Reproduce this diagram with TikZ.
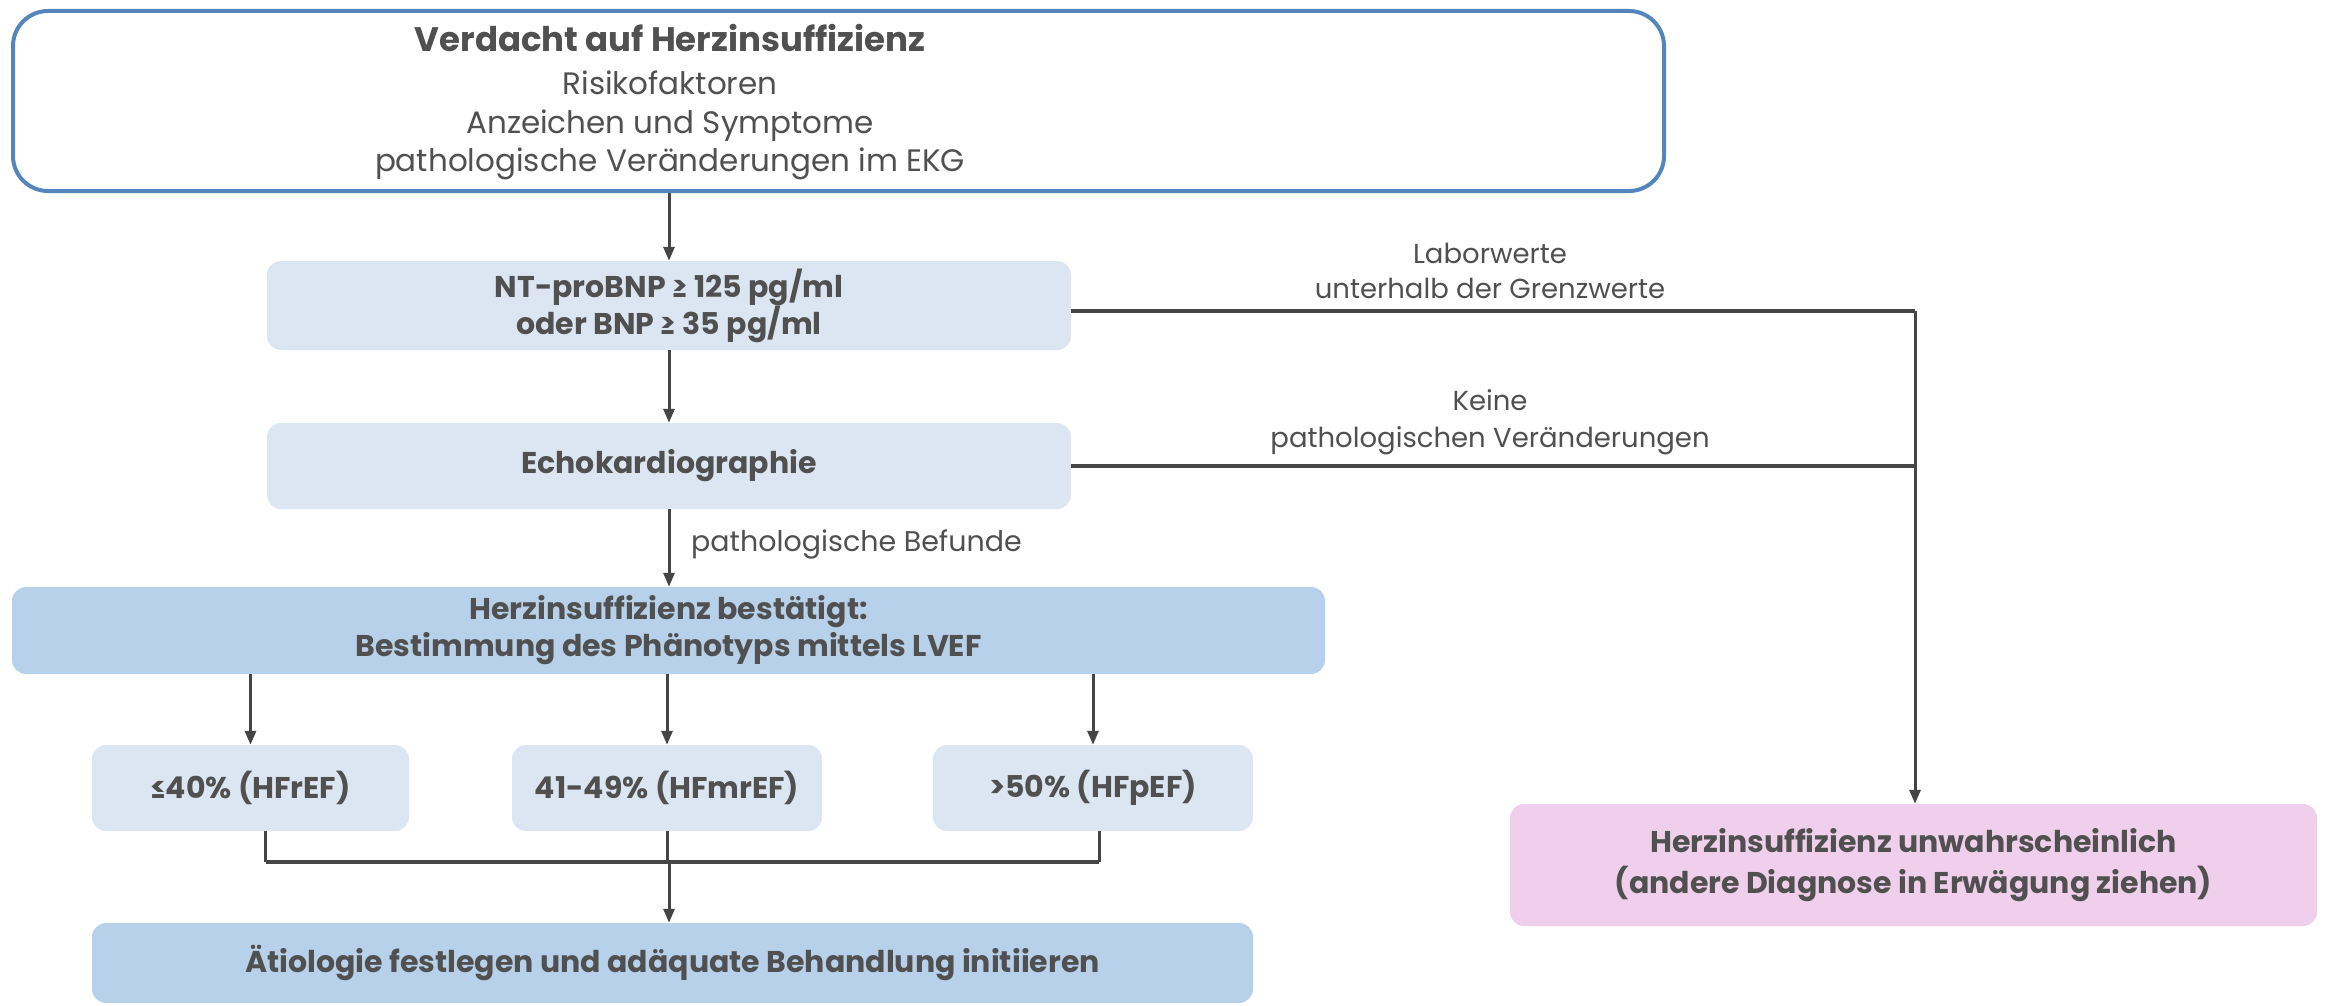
\documentclass[tikz,border=0pt]{standalone}
\usepackage{fontspec}
\setmainfont{Poppins}
\usetikzlibrary{arrows.meta}
\definecolor{txt}{HTML}{505050}
\definecolor{ln}{HTML}{454545}
\definecolor{border}{HTML}{5585BD}
\definecolor{lightblue}{HTML}{DCE6F2}
\definecolor{midblue}{HTML}{B8D1EA}
\definecolor{pinkfill}{HTML}{F0CFEC}
\tikzset{
  box/.style={rectangle, rounded corners=14pt, inner sep=0pt, align=center, text=txt, font=\fontsize{30}{37}\selectfont\bfseries},
  lbox/.style={box, fill=lightblue},
  mbox/.style={box, fill=midblue},
  pbox/.style={box, fill=pinkfill, font=\fontsize{30}{41}\selectfont\bfseries},
  conn/.style={draw=ln, line width=3pt},
  hconn/.style={draw=ln, line width=4pt},
  arr/.style={conn, -{Triangle[length=14pt,width=11pt]}},
  lab/.style={text=txt, align=center, inner sep=0pt, font=\fontsize{27.5}{35}\selectfont}
}
\begin{document}
\begin{tikzpicture}[x=1pt,y=-1pt]
\useasboundingbox (0,0) rectangle (2326,1006);
\fill[white] (0,0) rectangle (2326,1006);

\node[rectangle, draw=border, line width=4pt, rounded corners=35pt, fill=white,
      minimum width=1651pt, minimum height=180pt] (top) at (838.5,101) {};
\node[lab, font=\fontsize{31}{38.5}\selectfont] (toptext) at (670,102)
  {{\fontsize{34}{40}\selectfont\bfseries Verdacht auf Herzinsuffizienz}\\[5pt]
   Risikofaktoren\\ Anzeichen und Symptome\\ pathologische Veränderungen im EKG};

\node[lbox, minimum width=804pt, minimum height=89pt] (nt) at (669,305.5)
  {NT-proBNP ≥ 125 pg/ml\\ oder BNP ≥ 35 pg/ml};
\node[lbox, minimum width=804pt, minimum height=86pt] (echo) at (669,466)
  {Echokardiographie};
\node[mbox, minimum width=1313pt, minimum height=87pt] (hi) at (668.5,630.5)
  {Herzinsuffizienz bestätigt:\\ Bestimmung des Phänotyps mittels LVEF};
\node[lbox, minimum width=317pt, minimum height=86pt] (b1) at (250.5,788) {≤40\% (HFrEF)};
\node[lbox, minimum width=310pt, minimum height=86pt] (b2) at (667,788) {41-49\% (HFmrEF)};
\node[lbox, minimum width=320pt, minimum height=86pt] (b3) at (1093,788) {>50\% (HFpEF)};
\node[mbox, minimum width=1161pt, minimum height=80pt] (aet) at (672.5,963)
  {Ätiologie festlegen und adäquate Behandlung initiieren};
\node[pbox, minimum width=807pt, minimum height=122pt] (pink) at (1913.5,865)
  {Herzinsuffizienz unwahrscheinlich\\ (andere Diagnose in Erwägung ziehen)};

\node[lab] (lab1) at (1490,271) {Laborwerte\\ unterhalb der Grenzwerte};
\node[lab, font=\fontsize{27.5}{37}\selectfont] (lab2) at (1490,422) {Keine\\ pathologischen Veränderungen};
\node[lab, anchor=west, font=\fontsize{28.5}{35}\selectfont] (lab3) at (691,544) {pathologische Befunde};

\coordinate (rx) at (1915,0);
\coordinate (j) at (669,862);

\draw[arr] (top.south -| nt.north) -- (nt.north);
\draw[arr] (nt.south) -- (echo.north);
\draw[arr] (echo.south) -- (echo.south |- hi.north);
\draw[arr] (hi.south -| b1.north) -- (b1.north);
\draw[arr] (hi.south -| b2.north) -- (b2.north);
\draw[arr] (hi.south -| b3.north) -- (b3.north);
\draw[conn] ([xshift=15pt]b1.south) -- ([xshift=15pt]b1.south |- j);
\draw[conn] ([xshift=6pt]b3.south) -- ([xshift=6pt]b3.south |- j);
\draw[conn] (b2.south) -- (b2.south |- j);
\draw[hconn] ([xshift=15pt]b1.south |- j) -- ([xshift=6pt]b3.south |- j);
\draw[arr] (j) -- (j |- aet.north);
\draw[hconn] ([yshift=-5pt]nt.east) -- ([yshift=-5pt]nt.east -| rx);
\draw[hconn] (echo.east) -- (echo.east -| rx);
\draw[arr] ([yshift=-5pt]nt.east -| rx) -- (pink.north -| rx);
\end{tikzpicture}
\end{document}
